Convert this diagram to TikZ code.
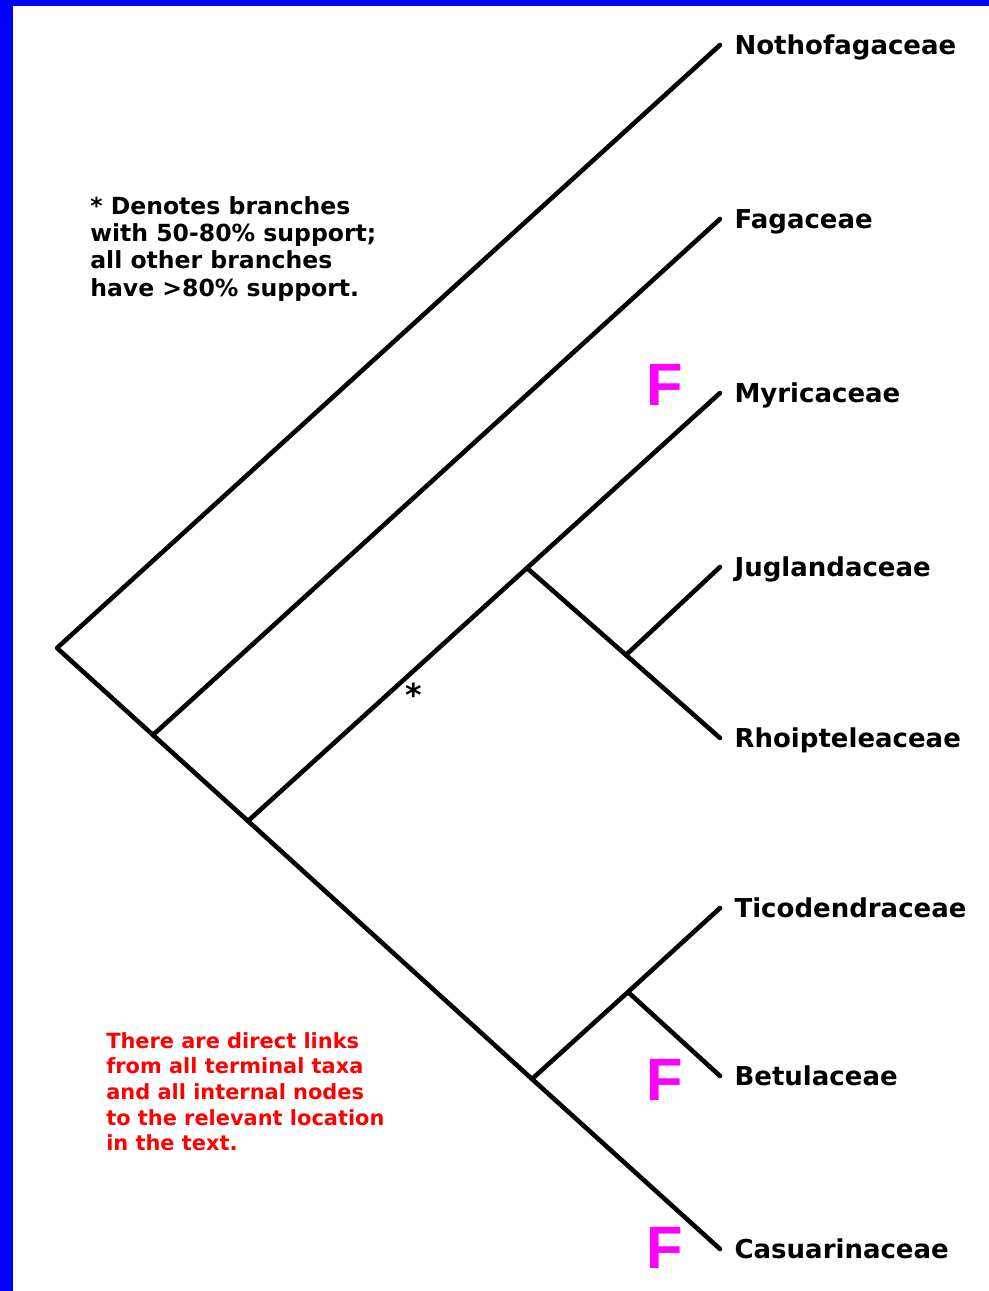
\documentclass[tikz,border=0pt]{standalone}
\usepackage{fontspec}
\setmainfont{DejaVu Sans}
\newfontfamily\markfont{Liberation Sans}[BoldFont={Liberation Sans Bold}]
\usepackage{xcolor}
\definecolor{frameblue}{RGB}{0, 0, 255}
\definecolor{fossilpink}{RGB}{255, 0, 255}

\begin{document}
\begin{tikzpicture}[x=0.02cm, y=-0.02cm, line width=2.6pt, line cap=round, line join=round,
    taxon/.style={anchor=west, inner xsep=7pt, inner ysep=0pt, text height=10.7pt, text depth=0pt,
        font=\fontsize{14.8}{17}\selectfont\bfseries},
    fossil/.style={anchor=base west, inner sep=0pt, text=fossilpink,
        font=\markfont\bfseries\fontsize{34}{34}\selectfont},
    note/.style={anchor=north west, inner sep=0pt, align=left}]
    \useasboundingbox (0,0) rectangle (989,1291);
    \fill[frameblue] (0,0) rectangle (13,1291);
    \fill[frameblue] (0,0) rectangle (989,6);

    \coordinate (root) at (57,648);
    \coordinate (fagsplit) at (153,735);
    \coordinate (myrsplit) at (248,821);
    \coordinate (jugsplit) at (527,568);
    \coordinate (rhoisplit) at (626,655);
    \coordinate (betsplit) at (532,1079);
    \coordinate (ticsplit) at (628,992);

    \node[taxon] (notho) at (720,45) {Nothofagaceae};
    \node[taxon] (fag) at (720,219) {Fagaceae};
    \node[taxon] (myr) at (720,393) {Myricaceae};
    \node[taxon] (jug) at (720,567) {Juglandaceae};
    \node[taxon] (rhoi) at (720,738) {Rhoipteleaceae};
    \node[taxon] (tico) at (720,908) {Ticodendraceae};
    \node[taxon] (betu) at (720,1076) {Betulaceae};
    \node[taxon] (casu) at (720,1249) {Casuarinaceae};

    \draw (notho.west) -- (root) -- (fagsplit) -- (myrsplit) -- (betsplit) -- (casu.west);
    \draw (fagsplit) -- (fag.west);
    \draw (myrsplit) -- (jugsplit) -- (myr.west);
    \draw (jugsplit) -- (rhoisplit) -- (rhoi.west);
    \draw (rhoisplit) -- (jug.west);
    \draw (betsplit) -- (ticsplit) -- (tico.west);
    \draw (ticsplit) -- (betu.west);

    \node[anchor=base, inner sep=0pt, font=\fontsize{18}{18}\selectfont\bfseries] (weak) at (414,706) {*};

    \node[fossil] (myrf) at (644,405) {F};
    \node[fossil] (betuf) at (644,1100) {F};
    \node[fossil] (casuf) at (644,1268) {F};

    \node[note, font=\fontsize{13.4}{15.6}\selectfont\bfseries] (support) at (88,194)
        {* Denotes branches\\with 50-80\% support;\\all other branches\\have >80\% support.};
    \node[note, text=red, font=\fontsize{11.9}{14.6}\selectfont\bfseries] (links) at (104,1030)
        {There are direct links\\from all terminal taxa\\and all internal nodes\\to the relevant location\\in the text.};
\end{tikzpicture}
\end{document}
